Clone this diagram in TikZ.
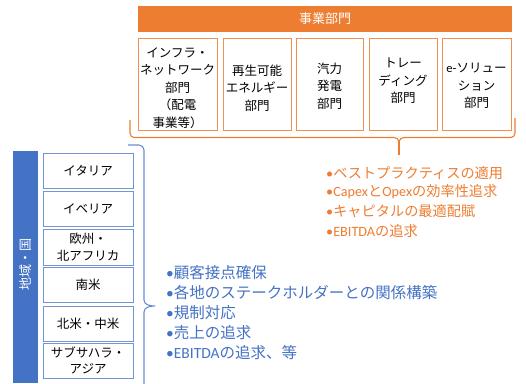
\documentclass[tikz,border=0pt]{standalone}
\usepackage{fontspec}
\setmainfont{Noto Sans CJK JP}
\newfontfamily\lat{Carlito}
\definecolor{orng}{HTML}{ED7D31}
\definecolor{blu}{HTML}{4472C4}
\begin{document}
\begin{tikzpicture}[x=1pt,y=-1pt,
  deptbox/.style={draw=orng!85, line width=1pt, minimum height=92pt, inner sep=1pt},
  depttext/.style={align=center, inner sep=0pt, font=\fontsize{12.5}{17.5}\selectfont},
  regbox/.style={draw=blu!75, line width=1pt, minimum width=90pt, inner sep=1pt,
    align=center, font=\fontsize{12.5}{16.5}\selectfont},
  otext/.style={anchor=west, inner sep=0pt, text=orng, font=\fontsize{14.2}{18}\selectfont},
  btext/.style={anchor=west, inner sep=0pt, text=blu, font=\fontsize{15.5}{19}\selectfont},
  obrace/.style={draw=orng, line width=1.1pt},
  bbrace/.style={draw=blu!80, line width=1.1pt}]
\useasboundingbox (0,0) rectangle (526,383);

% header
\node[fill=orng, minimum width=374pt, minimum height=26pt, inner sep=0pt, text=white,
  font=\fontsize{13}{16}\selectfont] (hdr) at (325,19) {事業部門};

% department boxes
\node[deptbox, minimum width=79pt] (d1) at (177.5,84) {};
\node[deptbox, minimum width=68pt] (d2) at (257,84) {};
\node[deptbox, minimum width=67pt] (d3) at (329.5,84) {};
\node[deptbox, minimum width=68pt] (d4) at (403,84) {};
\node[deptbox, minimum width=69pt] (d5) at (476.5,84) {};
\node[depttext] (t1) at (177.5,88) {インフラ・\\ネットワーク\\部門\\（配電\\事業等）};
\node[depttext] (t2) at (257,88) {再生可能\\エネルギー\\部門};
\node[depttext] (t3) at (329.5,86) {汽力\\発電\\部門};
\node[depttext] (t4) at (403,81) {トレー\\ディング\\部門};
\node[depttext] (t5) at (476.5,86) {{\lat e-}ソリュー\\ション\\部門};

% orange brace
\draw[obrace] (130,120) -- (130,133) to[out=-90,in=180] (134,137.5) -- (394,137.5)
  to[out=0,in=90] (399,142) to[out=90,in=180] (404,137.5) -- (511,137.5)
  to[out=0,in=-90] (515,133) -- (515,118);
\draw[obrace] (399,141) -- (399,155);

% orange bullets
\node[otext] (o1) at (326,173) {{\lat •}ベストプラクティスの適用};
\node[otext] (o2) at (326,192) {{\lat •Capex}と{\lat Opex}の効率性追求};
\node[otext] (o3) at (326,211.5) {{\lat •}キャピタルの最適配賦};
\node[otext] (o4) at (326,231) {{\lat •EBITDA}の追求};

% side bar
\node[fill=blu, minimum width=25pt, minimum height=232pt, inner sep=0pt] (side) at (25.5,267) {};
\node[rotate=90, text=white, font=\fontsize{13}{16}\selectfont] (sidet) at (25.5,264) {地域・国};

% region boxes
\node[regbox, minimum height=35pt] (r1) at (88,170.5) {イタリア};
\node[regbox, minimum height=35pt] (r2) at (88,208.5) {イベリア};
\node[regbox, minimum height=36pt] (r3) at (88,247) {欧州・\\北アフリカ};
\node[regbox, minimum height=35pt] (r4) at (88,284.5) {南米};
\node[regbox, minimum height=35pt] (r5) at (88,323.5) {北米・中米};
\node[regbox, minimum height=35pt] (r6) at (88,360.5) {サブサハラ・\\アジア};

% blue brace
\draw[bbrace] (128,145) -- (139,145) to[out=0,in=90] (144,150) -- (144,300)
  to[out=-90,in=180] (155,306) to[out=180,in=90] (144,312) -- (144,384);

% blue bullets
\node[btext] (b1) at (166,273) {{\lat •}顧客接点確保};
\node[btext] (b2) at (166,293) {{\lat •}各地のステークホルダーとの関係構築};
\node[btext] (b3) at (166,313) {{\lat •}規制対応};
\node[btext] (b4) at (166,333) {{\lat •}売上の追求};
\node[btext] (b5) at (166,352.5) {{\lat •EBITDA}の追求、等};
\end{tikzpicture}
\end{document}
